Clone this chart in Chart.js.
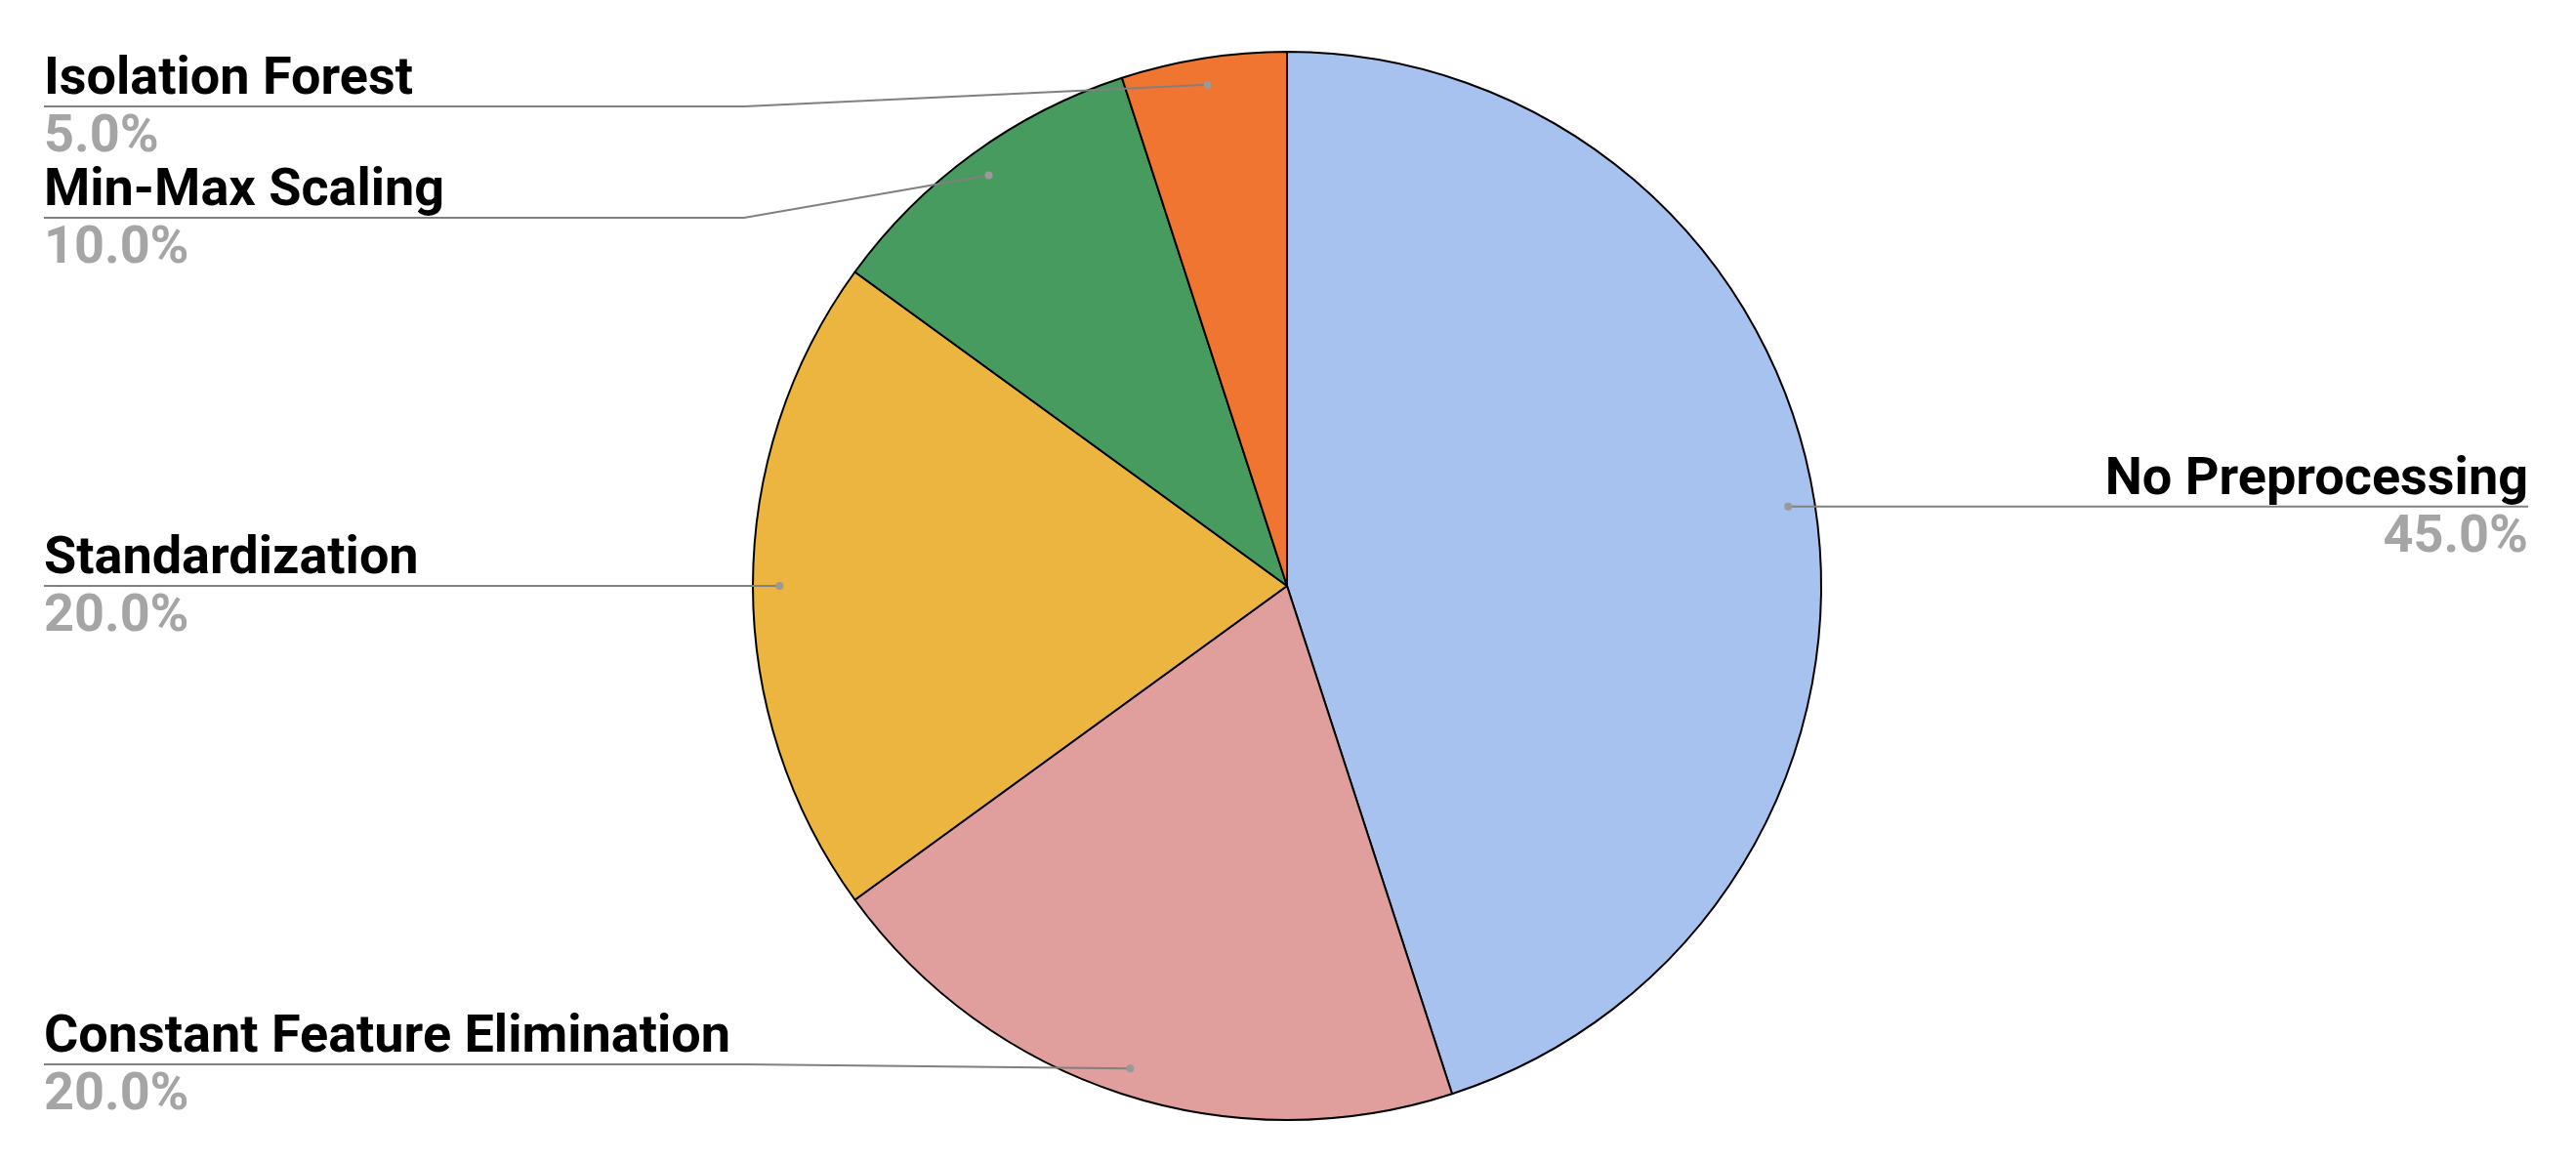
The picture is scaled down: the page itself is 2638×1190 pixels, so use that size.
<!DOCTYPE html>
<html>
<head>
<meta charset="utf-8">
<script src="https://cdn.jsdelivr.net/npm/chart.js@4.4.0/dist/chart.umd.min.js"></script>
<style>
  html, body { margin: 0; padding: 0; background: #fff; }
  #wrap { width: 2638px; height: 1190px; position: relative; }
</style>
</head>
<body>
<div id="wrap"><canvas id="pieChart"></canvas></div>
<script>
const methods = ['No Preprocessing', 'Constant Feature Elimination', 'Standardization', 'Min-Max Scaling', 'Isolation Forest'];
const shares = [45, 20, 20, 10, 5];
const sliceColors = ['#a8c2f0', '#e09e9d', '#ebb53f', '#479b5f', '#ef7530'];

// google-style outside labels with leader lines
const leaderLabels = {
    id: 'leaderLabels',
    afterDraw(chart) {
        const ctx = chart.ctx;
        const arcs = chart.getDatasetMeta(0).data;
        const total = shares.reduce((a, b) => a + b, 0);
        const W = chart.width;
        const leftX = 45, rightX = W - 49;
        const gap = 114, minY = 109, maxY = 1090;

        let items = arcs.map((arc, i) => {
            const p = arc.getProps(['x', 'y', 'startAngle', 'endAngle', 'outerRadius'], true);
            const mid = (p.startAngle + p.endAngle) / 2;
            const r = p.outerRadius * 0.95;
            const dx = p.x + Math.cos(mid) * r;
            const dy = p.y + Math.sin(mid) * r;
            return { i, dx, dy, cx: p.x, R: p.outerRadius, left: dx < p.x, ly: dy };
        });

        // stack each side so labels don't collide
        [true, false].forEach(side => {
            const list = items.filter(it => it.left === side).sort((a, b) => a.dy - b.dy);
            let prev = -Infinity;
            list.forEach(it => {
                let y = Math.min(Math.max(it.dy, minY), maxY);
                if (y < prev + gap) y = prev + gap;
                it.ly = y;
                prev = y;
            });
        });

        ctx.save();
        items.forEach(it => {
            const elbowX = it.left ? it.cx - it.R - 9 : it.cx + it.R + 9;
            const startX = it.left ? leftX : rightX;

            ctx.strokeStyle = '#808080';
            ctx.lineWidth = 2;
            ctx.beginPath();
            ctx.moveTo(startX, it.ly);
            ctx.lineTo(elbowX, it.ly);
            ctx.lineTo(it.dx, it.dy);
            ctx.stroke();

            ctx.fillStyle = '#999999';
            ctx.beginPath();
            ctx.arc(it.dx, it.dy, 4, 0, Math.PI * 2);
            ctx.fill();

            ctx.textAlign = it.left ? 'left' : 'right';
            ctx.textBaseline = 'alphabetic';
            ctx.font = 'bold 54px Roboto';
            ctx.fillStyle = '#000000';
            ctx.fillText(methods[it.i], startX, it.ly - 13);
            ctx.fillStyle = '#a5a5a5';
            ctx.fillText((shares[it.i] / total * 100).toFixed(1) + '%', startX, it.ly + 46);
        });
        ctx.restore();
    }
};

new Chart(document.getElementById('pieChart'), {
    type: 'pie',
    data: {
        labels: methods,
        datasets: [{
            data: shares,
            backgroundColor: sliceColors,
            borderColor: '#000000',
            borderWidth: 2
        }]
    },
    options: {
        responsive: true,
        maintainAspectRatio: false,
        animation: false,
        layout: { padding: { top: 52, bottom: 42, left: 770, right: 772 } },
        plugins: {
            legend: { display: false },
            tooltip: { enabled: false }
        }
    },
    plugins: [leaderLabels]
});
</script>
</body>
</html>
